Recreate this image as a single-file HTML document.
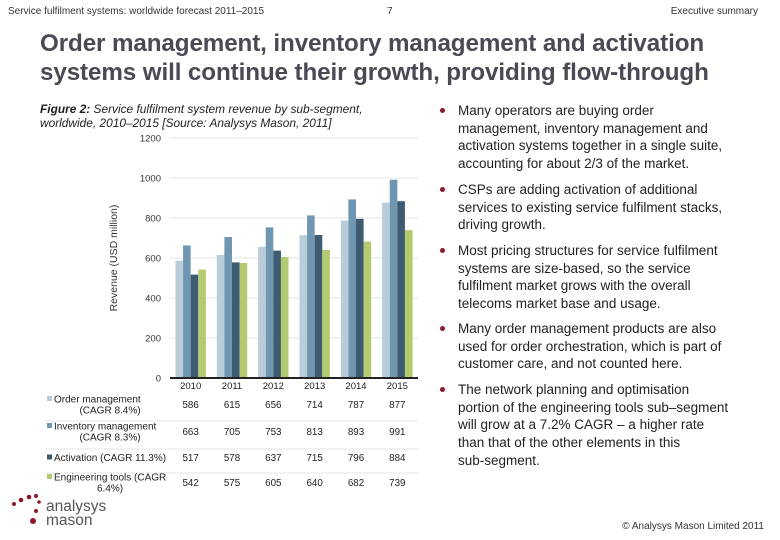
<!DOCTYPE html>
<html><head><meta charset="utf-8">
<style>
body{margin:0;width:780px;height:540px;background:#fff;position:relative;overflow:hidden;font-family:"Liberation Sans",sans-serif;color:#222}
.abs{position:absolute}
.hdr{font-size:10px;color:#333;top:6px}
.title{left:40px;top:29px;font-size:24.2px;font-weight:bold;color:#4a4a55;line-height:29px;letter-spacing:-0.1px}
.cap{left:40px;top:102px;font-size:11.9px;font-style:italic;line-height:14px;color:#222}
.b{left:458px;font-size:13.5px;line-height:17.7px;color:#222;width:320px}
.dot{position:absolute;left:-18px;top:6px;width:5px;height:5px;border-radius:50%;background:#8b1a2a}
</style></head><body>
<div class="abs hdr" style="left:8px">Service fulfilment systems: worldwide forecast 2011–2015</div>
<div class="abs hdr" style="left:387px">7</div>
<div class="abs hdr" style="right:22px">Executive summary</div>
<div class="abs title">Order management, inventory management and activation<br>systems will continue their growth, providing flow-through</div>
<div class="abs cap"><b>Figure 2:</b> Service fulfilment system revenue by sub-segment,<br>worldwide, 2010–2015 [Source: Analysys Mason, 2011]</div>

<div class="abs b" style="top:102px"><span class="dot"></span>Many operators are buying order<br>management, inventory management and<br>activation systems together in a single suite,<br>accounting for about 2/3 of the market.</div>
<div class="abs b" style="top:181px"><span class="dot"></span>CSPs are adding activation of additional<br>services to existing service fulfilment stacks,<br>driving growth.</div>
<div class="abs b" style="top:242px"><span class="dot"></span>Most pricing structures for service fulfilment<br>systems are size-based, so the service<br>fulfilment market grows with the overall<br>telecoms market  base and usage.</div>
<div class="abs b" style="top:320px"><span class="dot"></span>Many order management products are also<br>used for order orchestration, which is part of<br>customer care, and not counted here.</div>
<div class="abs b" style="top:381px"><span class="dot"></span>The network planning and optimisation<br>portion of the engineering tools sub–segment<br>will grow at a 7.2% CAGR – a higher rate<br>than that of the other elements in this<br>sub-segment.</div>
<div class="abs" style="right:16px;top:521px;font-size:10px;color:#333">© Analysys Mason Limited 2011</div>

<div class="abs" style="left:10px;top:490px">
<svg width="110" height="42">
<circle cx="4" cy="14" r="2" fill="#8b1a2a"/><circle cx="11" cy="10" r="2.3" fill="#8b1a2a"/><circle cx="19" cy="7" r="2.3" fill="#8b1a2a"/><circle cx="26" cy="6" r="2" fill="#8b1a2a"/><circle cx="29" cy="12" r="1.8" fill="#8b1a2a"/><circle cx="26" cy="21" r="2" fill="#8b1a2a"/><circle cx="23" cy="31" r="3" fill="#8b1a2a"/>
<text x="36" y="21" font-size="15.5" fill="#555" font-family="Liberation Sans">analysys</text>
<text x="36" y="35" font-size="15.5" fill="#555" font-family="Liberation Sans">mason</text>
</svg></div>

<svg class="abs" style="left:0;top:0" width="780" height="540" id="chart"></svg>
<script>
const years=["2010","2011","2012","2013","2014","2015"];
const seriesNames=["Order management (CAGR 8.4%)","Inventory management (CAGR 8.3%)","Activation (CAGR 11.3%)","Engineering tools (CAGR 6.4%)"];
const orderMgmt=[586,615,656,714,787,877];
const inventoryMgmt=[663,705,753,813,893,991];
const activation=[517,578,637,715,796,884];
const engTools=[542,575,605,640,682,739];
const yTicks=[0,200,400,600,800,1000,1200];
const tableText=[["586","615","656","714","787","877"],["663","705","753","813","893","991"],["517","578","637","715","796","884"],["542","575","605","640","682","739"]];
const series=[orderMgmt,inventoryMgmt,activation,engTools];
const colors=["#b9ccd9","#6f97b1","#3e5b71","#b4ca70"];
const labelLines=[["Order management","(CAGR 8.4%)"],["Inventory management","(CAGR 8.3%)"],["Activation (CAGR 11.3%)"],["Engineering tools (CAGR","6.4%)"]];
const NS="http://www.w3.org/2000/svg";
const svg=document.getElementById('chart');
const x0=170,x1=418,y0=378,yTop=138;
const yS=v=>y0-(v/1200)*(y0-yTop);
const band=(x1-x0)/years.length;
const xC=i=>x0+band*(i+0.5);
const bw=7.6;
function mk(t,a){const e=document.createElementNS(NS,t);for(const k in a)e.setAttribute(k,a[k]);svg.appendChild(e);return e;}
yTicks.forEach(t=>{
 if(t>0){const g=mk('line',{x1:x0,x2:x1,y1:yS(t),y2:yS(t),stroke:'#e4e4e4','stroke-width':1});
 
 }
 const l=mk('text',{x:x0-9,y:yS(t)+3.5,'font-size':9.5,'text-anchor':'end',fill:'#333','font-family':'Liberation Sans'});
 l.textContent=t;
 
 
});
const yt=mk('text',{x:117,y:258,'font-size':10.5,'text-anchor':'middle',fill:'#333','font-family':'Liberation Sans',transform:'rotate(-90 117 258)'});
yt.textContent='Revenue (USD million)';


series.forEach((s,si)=>{s.forEach((v,i)=>{
 const x=xC(i)-2*bw+si*bw;
 const r=mk('rect',{x:x,y:yS(v),width:bw,height:y0-yS(v),fill:colors[si]});
 
 
});});
const ax=mk('line',{x1:x0,x2:x1,y1:y0,y2:y0,stroke:'#222','stroke-width':2});


years.forEach((y,i)=>{
 const t=mk('text',{x:xC(i),y:389,'font-size':9.5,'text-anchor':'middle',fill:'#222','font-family':'Liberation Sans'});
 t.textContent=y;
 
 
});
const rowY=[408,435,461,486];
[421,449,473].forEach(y=>{const l=mk('line',{x1:45,x2:418,y1:y,y2:y,stroke:'#e6e6e6','stroke-width':1});
 
 });
labelLines.forEach((lines,si)=>{
 const n=lines.length;const top=rowY[si]-(n-1)*5.5;
 const sq=mk('rect',{x:47,y:top-6.5,width:5,height:5,fill:colors[si]});
 
 
 lines.forEach((ln,li)=>{
  const t=mk('text',{x:li==0?54:110,y:top+li*11,'font-size':10,'text-anchor':li==0?'start':'middle',fill:'#222','font-family':'Liberation Sans'});
  t.textContent=ln;
  
  
 });
 tableText[si].forEach((v,i)=>{
  const t=mk('text',{x:xC(i),y:rowY[si],'font-size':9.8,'text-anchor':'middle',fill:'#222','font-family':'Liberation Sans'});
  t.textContent=v;
  
  
 });
});
</script>
</body></html>
